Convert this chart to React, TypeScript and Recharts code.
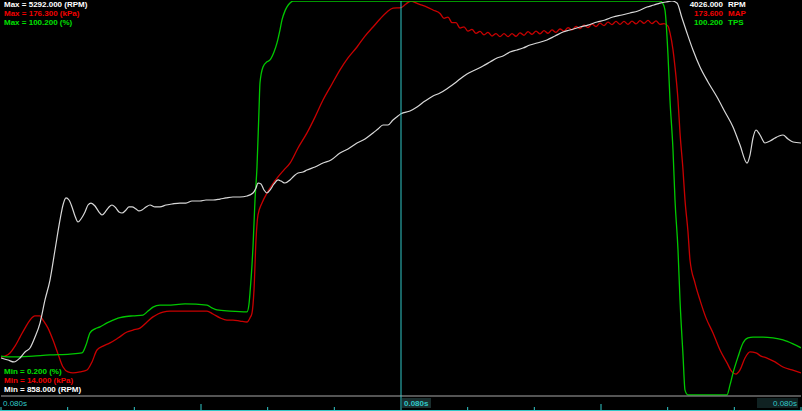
import { LineChart, Line, XAxis, YAxis, ReferenceLine } from 'recharts'

const BG = '#000000'
const RPM_COLOR = '#D8D8D8'
const MAP_COLOR = '#C80000'
const TPS_COLOR = '#00C800'
const CYAN = '#30C8C8'
const GRID_GRAY = '#A8A8A8'

// time in ms, value in channel units
const RPM_TRACE: [number, number][] = [
  [0, 1285], [105, 1262], [195, 1240], [285, 1285], [360, 1352], [435, 1397], [510, 1520],
  [585, 1677], [660, 1936], [735, 2160], [810, 2497], [885, 2834], [930, 3002], [975, 3081],
  [1020, 3058], [1065, 2980], [1110, 2879], [1155, 2811], [1200, 2845], [1260, 2923],
  [1305, 3002], [1350, 3024], [1410, 2991], [1470, 2923], [1515, 2890], [1575, 2935],
  [1620, 2980], [1665, 3002], [1725, 2968], [1770, 2923], [1815, 2912], [1875, 2946],
  [1920, 2980], [1965, 2980], [2025, 2957], [2070, 2935], [2115, 2946], [2175, 2980],
  [2235, 3002], [2310, 2980], [2385, 2980], [2475, 3002], [2565, 3013], [2685, 3024],
  [2775, 3024], [2865, 3047], [2985, 3047], [3075, 3058], [3180, 3058], [3285, 3069],
  [3375, 3081], [3480, 3092], [3585, 3092], [3690, 3103], [3780, 3137], [3825, 3193],
  [3855, 3249], [3900, 3238], [3945, 3170], [3990, 3137], [4035, 3170], [4095, 3238],
  [4155, 3283], [4200, 3271], [4260, 3249], [4335, 3283], [4395, 3328], [4455, 3361],
  [4530, 3372], [4590, 3395], [4710, 3429], [4830, 3473], [4950, 3507], [5085, 3586],
  [5205, 3631], [5340, 3698], [5460, 3743], [5580, 3810], [5655, 3855], [5730, 3900],
  [5805, 3900], [5880, 3956], [5955, 4001], [6000, 4026], [6135, 4057], [6240, 4102],
  [6360, 4169], [6480, 4226], [6585, 4259], [6705, 4315], [6810, 4371], [6885, 4416],
  [6990, 4472], [7110, 4517], [7230, 4562], [7335, 4607], [7440, 4652], [7530, 4675],
  [7635, 4719], [7740, 4742], [7830, 4764], [7935, 4798], [8040, 4820], [8190, 4854],
  [8310, 4899], [8430, 4944], [8535, 4966], [8685, 5000], [8805, 5022], [8940, 5056],
  [9060, 5079], [9180, 5112], [9315, 5135], [9435, 5157], [9555, 5180], [9690, 5225],
  [9795, 5247], [9885, 5269], [9975, 5281], [10065, 5292], [10140, 5269], [10215, 5101],
  [10290, 4933], [10380, 4742], [10485, 4551], [10605, 4383], [10740, 4214], [10860, 4046],
  [10980, 3878], [11085, 3675], [11190, 3473], [11235, 3563], [11280, 3754], [11325, 3844],
  [11385, 3788], [11460, 3698], [11535, 3720], [11610, 3754], [11670, 3777], [11730, 3788],
  [11805, 3743], [11880, 3709], [12000, 3698],
]

const MAP_TRACE: [number, number][] = [
  [0, 30.0], [60, 30.4], [135, 31.7], [210, 34.5], [285, 38.2], [360, 41.9], [435, 45.2],
  [510, 46.9], [585, 46.9], [630, 45.2], [705, 41.9], [780, 37.0], [855, 31.3], [930, 25.9],
  [1005, 23.9], [1080, 23.5], [1185, 23.9], [1290, 24.7], [1365, 28.0], [1440, 32.9],
  [1530, 34.5], [1635, 35.8], [1755, 37.8], [1890, 40.3], [1980, 41.1], [2085, 41.9],
  [2190, 44.4], [2280, 46.5], [2355, 47.7], [2430, 48.5], [2535, 48.9], [2640, 48.9],
  [2835, 48.9], [3090, 48.9], [3180, 47.7], [3285, 46.1], [3390, 45.2], [3480, 45.2],
  [3585, 44.8], [3690, 44.4], [3735, 46.1], [3765, 48.1], [3795, 57.6], [3825, 78.1],
  [3855, 88.4], [3915, 93.3], [3990, 97.4], [4065, 100.7], [4155, 104.0], [4245, 106.9],
  [4335, 109.7], [4455, 115.9], [4590, 122.1], [4710, 128.6], [4830, 135.6], [4965, 142.2],
  [5085, 148.0], [5205, 152.9], [5340, 157.4], [5460, 161.9], [5580, 165.6], [5685, 168.9],
  [5790, 171.8], [5880, 173.4], [6000, 173.6], [6075, 175.1], [6150, 176.3], [6225, 175.5],
  [6300, 174.7], [6390, 173.8], [6480, 172.6], [6585, 171.2], [6645, 169.2], [6705, 169.7],
  [6765, 167.4], [6825, 167.4], [6885, 165.2], [6945, 165.7], [7005, 163.9], [7065, 164.6],
  [7125, 163.0], [7185, 163.8], [7245, 162.4], [7305, 163.4], [7365, 161.9], [7425, 162.9],
  [7485, 161.7], [7545, 162.9], [7605, 161.7], [7665, 162.9], [7725, 161.8], [7785, 163.2],
  [7845, 162.2], [7905, 163.7], [7965, 162.6], [8025, 163.9], [8085, 162.8], [8145, 164.1],
  [8205, 163.0], [8265, 164.4], [8325, 163.4], [8385, 164.8], [8445, 163.9], [8505, 165.4],
  [8565, 164.4], [8625, 165.9], [8685, 165.0], [8745, 166.4], [8805, 165.4], [8865, 166.8],
  [8925, 165.8], [8985, 167.2], [9045, 166.2], [9105, 167.6], [9165, 166.6], [9225, 167.9],
  [9285, 166.7], [9345, 167.9], [9405, 166.7], [9465, 168.0], [9525, 166.9], [9585, 168.2],
  [9645, 167.1], [9705, 168.3], [9765, 167.0], [9825, 168.1], [9885, 166.7], [9945, 167.0],
  [10005, 166.0], [10035, 163.2], [10080, 156.2], [10110, 149.2], [10155, 135.6],
  [10185, 122.1], [10230, 106.9], [10260, 94.5], [10305, 81.4], [10335, 69.9], [10410, 60.4],
  [10485, 53.4], [10575, 46.1], [10680, 39.9], [10785, 32.9], [10890, 27.6], [10965, 23.9],
  [11025, 23.0], [11085, 24.7], [11160, 29.6], [11235, 32.1], [11325, 31.7], [11400, 30.4],
  [11490, 29.6], [11610, 28.0], [11730, 25.9], [11865, 24.7], [12000, 23.5],
]

const TPS_TRACE: [number, number][] = [
  [0, 10.3], [90, 10.1], [285, 10.1], [480, 10.3], [735, 10.6], [1035, 10.8], [1215, 11.1],
  [1275, 13.1], [1335, 16.2], [1410, 17.2], [1485, 17.7], [1590, 18.7], [1680, 19.4],
  [1755, 19.9], [1830, 20.2], [1980, 20.5], [2130, 20.7], [2205, 21.7], [2280, 22.7],
  [2385, 23.2], [2490, 23.2], [2760, 23.5], [3090, 23.2], [3165, 22.5], [3240, 22.0],
  [3435, 21.7], [3690, 21.5], [3720, 23.5], [3735, 26.3], [3765, 33.4], [3780, 37.9],
  [3810, 49.8], [3840, 58.2], [3870, 72.6], [3885, 79.5], [3930, 83.5], [3990, 84.8],
  [4035, 85.3], [4095, 87.3], [4140, 89.6], [4185, 92.9], [4215, 95.4], [4260, 97.7],
  [4290, 98.7], [4335, 99.7], [4380, 100.2], [9885, 100.2], [9930, 99.5], [9960, 97.9],
  [10005, 86.5], [10035, 75.1], [10080, 62.5], [10110, 49.8], [10155, 37.2], [10185, 24.5],
  [10230, 10.6], [10260, 1.7], [10305, 0.5], [10890, 0.5], [10935, 3.0], [10980, 6.0],
  [11055, 10.1], [11130, 13.6], [11205, 14.9], [11280, 15.1], [11430, 15.1], [11580, 14.9],
  [11730, 14.4], [11880, 13.4], [12000, 12.4],
]

const RPM_RANGE: [number, number] = [858, 5292]
const MAP_RANGE: [number, number] = [14, 176.3]
const TPS_RANGE: [number, number] = [0.2, 100.2]

const CURSOR_T = 6000
const TIME_TICKS = [0, 1000, 2000, 3000, 4000, 5000, 6000, 7000, 8000, 9000, 10000, 11000, 12000]
const MAJOR_TICKS = [3000, 9000]
const TICK_LABEL = '0.080s'

const MAX_LABELS = [
  { text: 'Max = 5292.000 (RPM)', color: '#FFFFFF' },
  { text: 'Max = 176.300 (kPa)', color: '#F00000' },
  { text: 'Max = 100.200 (%)', color: '#00E000' },
]
const MIN_LABELS = [
  { text: 'Min = 0.200 (%)', color: '#00E000' },
  { text: 'Min = 14.000 (kPa)', color: '#F00000' },
  { text: 'Min = 858.000 (RPM)', color: '#FFFFFF' },
]
const CURSOR_VALUES = [
  { value: '4026.000', unit: 'RPM', color: '#FFFFFF' },
  { value: '173.600', unit: 'MAP', color: '#F00000' },
  { value: '100.200', unit: 'TPS', color: '#00E000' },
]

const toRows = (trace: [number, number][]) => trace.map(([t, v]) => ({ t, v }))

const W = 802
const H = 411
const AXIS_H = 15
const FONT = '"Liberation Sans", Arial, sans-serif'

const textStyle: React.CSSProperties = {
  fontFamily: FONT,
  fontWeight: 'bold',
  fontSize: 8,
  lineHeight: '9px',
  whiteSpace: 'pre',
}

function TimeTick(props: any) {
  const { x, payload } = props
  const t = payload.value as number
  const bottom = H - 1
  const isCursor = t === CURSOR_T
  const h = MAJOR_TICKS.includes(t) ? 6 : 3
  return (
    <g>
      {isCursor ? (
        <line x1={x} x2={x} y1={H - AXIS_H} y2={H} stroke={CYAN} />
      ) : (
        <line x1={x} x2={x} y1={bottom} y2={bottom - h} stroke={CYAN} />
      )}
      {t === 0 && (
        <text x={x + 2} y={H - 5} fill={CYAN} fontSize={8} fontFamily={FONT}>
          {TICK_LABEL}
        </text>
      )}
      {isCursor && (
        <g>
          <rect x={x + 1} y={H - AXIS_H + 2} width={29} height={10} fill="#1A2E2E" />
          <text x={x + 3} y={H - 5} fill={CYAN} fontSize={8} fontWeight="bold" fontFamily={FONT}>
            {TICK_LABEL}
          </text>
        </g>
      )}
      {t === 12000 && (
        <g>
          <rect x={x - 44} y={H - AXIS_H + 2} width={41} height={10} fill="#102222" />
          <text x={x - 4} y={H - 5} textAnchor="end" fill={CYAN} fontSize={8} fontFamily={FONT}>
            {TICK_LABEL}
          </text>
        </g>
      )}
    </g>
  )
}

export default function App() {
  const rpm = toRows(RPM_TRACE)
  const map = toRows(MAP_TRACE)
  const tps = toRows(TPS_TRACE)

  return (
    <div style={{ position: 'absolute', left: 0, top: 0, width: W, height: H, background: BG, overflow: 'hidden' }}>
      <LineChart width={W} height={H} margin={{ top: 1, right: 1, bottom: 0, left: 1 }}>
        <XAxis
          type="number"
          dataKey="t"
          domain={[0, 12000]}
          ticks={TIME_TICKS}
          interval={0}
          height={AXIS_H}
          axisLine={{ stroke: GRID_GRAY }}
          tickLine={false}
          tick={<TimeTick />}
          allowDataOverflow
        />
        <YAxis yAxisId="rpm" hide width={0} domain={RPM_RANGE} allowDataOverflow />
        <YAxis yAxisId="map" hide width={0} domain={MAP_RANGE} allowDataOverflow />
        <YAxis yAxisId="tps" hide width={0} domain={TPS_RANGE} allowDataOverflow />
        <Line data={map} dataKey="v" yAxisId="map" type="monotone" stroke={MAP_COLOR} strokeWidth={1.3} dot={false} isAnimationActive={false} />
        <Line data={tps} dataKey="v" yAxisId="tps" type="monotone" stroke={TPS_COLOR} strokeWidth={1.3} dot={false} isAnimationActive={false} />
        <Line data={rpm} dataKey="v" yAxisId="rpm" type="monotone" stroke={RPM_COLOR} strokeWidth={1.2} dot={false} isAnimationActive={false} />
        <ReferenceLine x={CURSOR_T} yAxisId="rpm" stroke={CYAN} strokeWidth={1} />
      </LineChart>

      <div style={{ position: 'absolute', left: 4, top: 0 }}>
        {MAX_LABELS.map((l) => (
          <div key={l.text} style={{ ...textStyle, color: l.color }}>{l.text}</div>
        ))}
      </div>

      <div style={{ position: 'absolute', left: 4, top: 367 }}>
        {MIN_LABELS.map((l) => (
          <div key={l.text} style={{ ...textStyle, color: l.color }}>{l.text}</div>
        ))}
      </div>

      <div style={{ position: 'absolute', left: 660, top: 0 }}>
        {CURSOR_VALUES.map((c) => (
          <div key={c.unit} style={{ display: 'flex' }}>
            <div style={{ ...textStyle, color: c.color, width: 63, textAlign: 'right' }}>{c.value}</div>
            <div style={{ ...textStyle, color: c.color, marginLeft: 5 }}>{c.unit}</div>
          </div>
        ))}
      </div>

      <div style={{ position: 'absolute', left: 0, top: H - 1, width: W, height: 1, background: CYAN }} />
    </div>
  )
}
